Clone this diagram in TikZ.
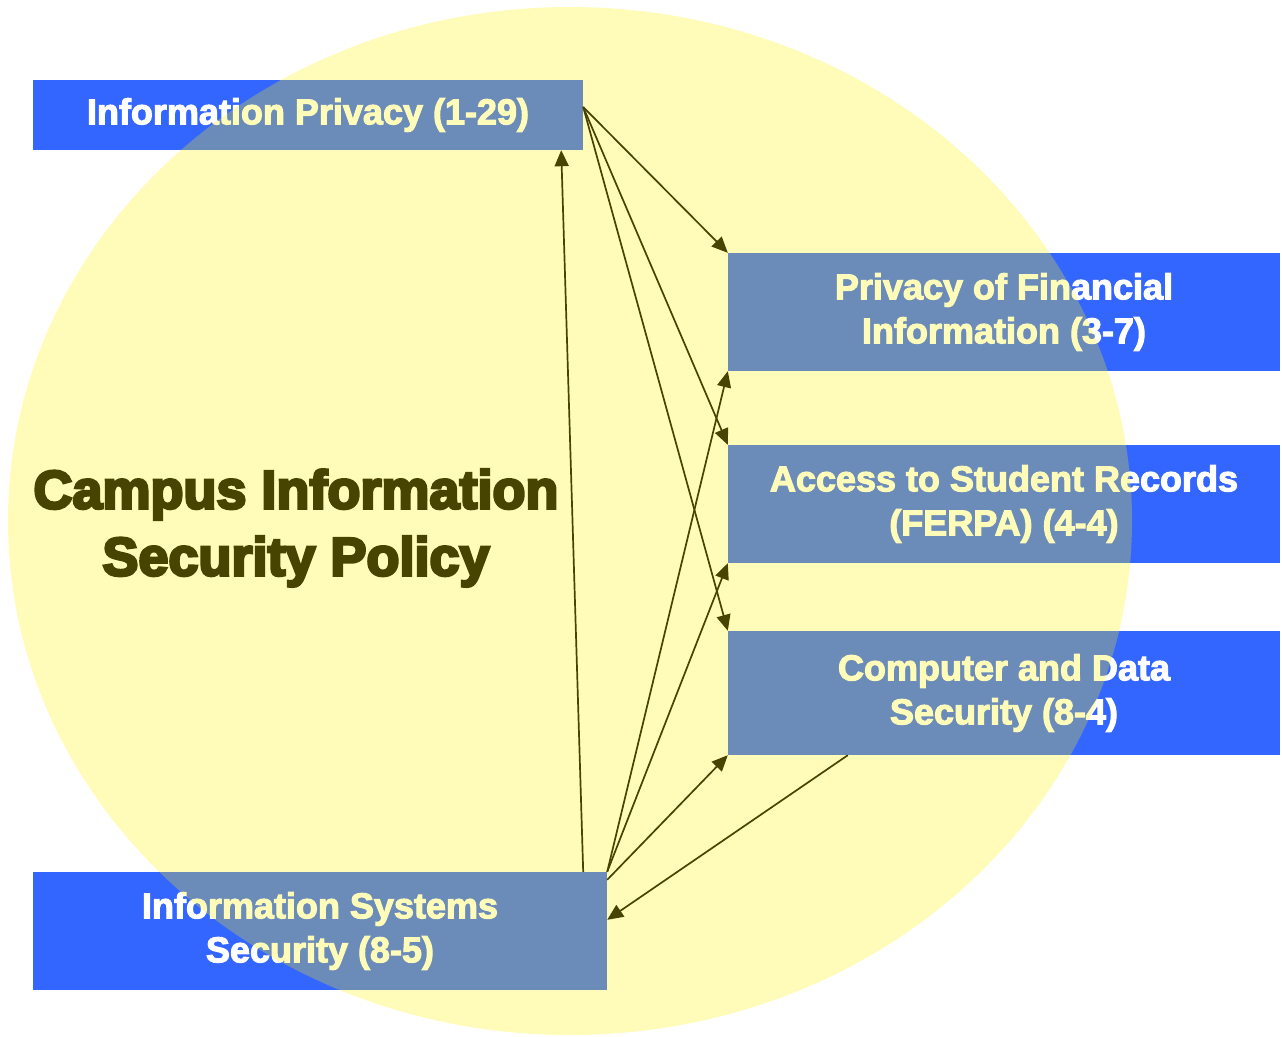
\documentclass[tikz,border=0pt]{standalone}
\usepackage{fontspec}
\setmainfont{Liberation Sans}[BoldFeatures={FakeBold=3}]
\newfontfamily\heavyfont{Liberation Sans}[BoldFeatures={FakeBold=5}]
\usetikzlibrary{arrows.meta}

\definecolor{boxblue}{RGB}{51,102,255}

\begin{document}
\begin{tikzpicture}[x=1pt,y=-1pt,
    box/.style={fill=boxblue,text=white,align=center,inner sep=0pt,
        font=\fontsize{36}{44}\selectfont\bfseries},
    link/.style={line width=1.7pt,-{Triangle[length=16pt,width=14pt]}},
    oval/.style={fill=yellow,fill opacity=0.28}]

    \useasboundingbox (0,0) rectangle (1282,1036);

    \node[box,minimum width=550pt,minimum height=70pt] (ip) at (308,115) {Information Privacy (1-29)};
    \node[box,minimum width=552pt,minimum height=118pt] (fin) at (1004,312) {Privacy of Financial\\Information (3-7)};
    \node[box,minimum width=552pt,minimum height=118pt] (ferpa) at (1004,504) {Access to Student Records\\(FERPA) (4-4)};
    \node[box,minimum width=552pt,minimum height=124pt] (cds) at (1004,693) {Computer and Data\\Security (8-4)};
    \node[box,minimum width=574pt,minimum height=118pt] (iss) at (320,931) {Information Systems\\Security (8-5)};

    \node[align=center,font=\fontsize{54}{67}\selectfont\heavyfont\bfseries] (policy) at (296,528) {Campus Information\\Security Policy};

    \draw[link] ([yshift=8pt]ip.east) -- (fin.north west);
    \draw[link] ([yshift=8pt]ip.east) -- (ferpa.north west);
    \draw[link] ([yshift=8pt]ip.east) -- (cds.north west);

    \draw[link] (iss.north east) -- (fin.south west);
    \draw[link] (iss.north east) -- (ferpa.south west);
    \draw[link] ([yshift=-8pt]iss.north east) -- (cds.south west);
    \draw[link] ([xshift=-24pt]iss.north east) -- ([xshift=-22pt]ip.south east);
    \draw[link] ([xshift=120pt]cds.south west) -- ([yshift=-48pt]iss.north east);

    % yellow oval laid over everything
    \fill[oval] (570,521) ellipse [x radius=562pt,y radius=514pt];
\end{tikzpicture}
\end{document}
